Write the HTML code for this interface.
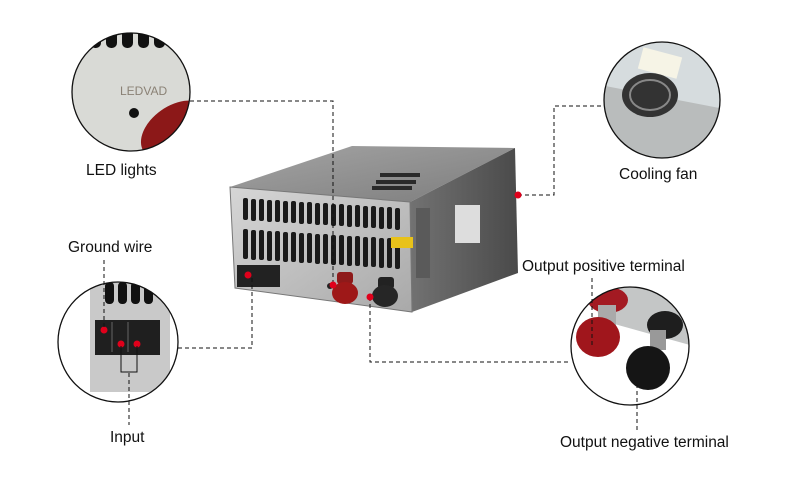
<!DOCTYPE html>
<html><head><meta charset="utf-8"><style>
html,body{margin:0;padding:0;background:#fff;}
svg{display:block;}
text{font-family:"Liberation Sans",Arial,sans-serif;font-size:15.5px;fill:#111;}
</style></head><body>
<svg width="800" height="480" viewBox="0 0 800 480" xmlns="http://www.w3.org/2000/svg">
<defs>
<linearGradient id="front" x1="0" y1="0" x2="1" y2="1"><stop offset="0" stop-color="#d6d6d6"/><stop offset="1" stop-color="#a9a9a9"/></linearGradient>
<linearGradient id="top" x1="0" y1="0" x2="1" y2="1"><stop offset="0" stop-color="#a4a4a4"/><stop offset="1" stop-color="#7d7d7d"/></linearGradient>
<linearGradient id="side" x1="0" y1="0" x2="1" y2="0"><stop offset="0" stop-color="#727272"/><stop offset="1" stop-color="#4a4a4a"/></linearGradient>
<clipPath id="c1"><circle cx="131" cy="92" r="59"/></clipPath>
<clipPath id="c2"><circle cx="662" cy="100" r="58"/></clipPath>
<clipPath id="c3"><circle cx="118" cy="342" r="60"/></clipPath>
<clipPath id="c4"><circle cx="630" cy="346" r="59"/></clipPath>
</defs>

<polygon points="230,187 352,146 515,148 410,202" fill="url(#top)"/>
<polygon points="410,202 515,148 518,273 412,312" fill="url(#side)"/>
<polygon points="230,187 410,202 412,312 235,288" fill="url(#front)" stroke="#777" stroke-width="1"/>
<g fill="#1a1a1a">
<rect x="243" y="198" width="5" height="22" rx="2"/><rect x="251" y="199" width="5" height="22" rx="2"/><rect x="259" y="199" width="5" height="22" rx="2"/><rect x="267" y="200" width="5" height="22" rx="2"/><rect x="275" y="200" width="5" height="22" rx="2"/><rect x="283" y="201" width="5" height="22" rx="2"/><rect x="291" y="201" width="5" height="22" rx="2"/><rect x="299" y="202" width="5" height="22" rx="2"/><rect x="307" y="202" width="5" height="22" rx="2"/><rect x="315" y="203" width="5" height="22" rx="2"/><rect x="323" y="203" width="5" height="22" rx="2"/><rect x="331" y="204" width="5" height="22" rx="2"/><rect x="339" y="204" width="5" height="22" rx="2"/><rect x="347" y="205" width="5" height="22" rx="2"/><rect x="355" y="205" width="5" height="22" rx="2"/><rect x="363" y="206" width="5" height="22" rx="2"/><rect x="371" y="206" width="5" height="22" rx="2"/><rect x="379" y="207" width="5" height="22" rx="2"/><rect x="387" y="207" width="5" height="22" rx="2"/><rect x="395" y="208" width="5" height="22" rx="2"/>
<rect x="243" y="229" width="5" height="30" rx="2"/><rect x="251" y="230" width="5" height="30" rx="2"/><rect x="259" y="230" width="5" height="30" rx="2"/><rect x="267" y="231" width="5" height="30" rx="2"/><rect x="275" y="231" width="5" height="30" rx="2"/><rect x="283" y="232" width="5" height="30" rx="2"/><rect x="291" y="232" width="5" height="30" rx="2"/><rect x="299" y="233" width="5" height="30" rx="2"/><rect x="307" y="233" width="5" height="30" rx="2"/><rect x="315" y="234" width="5" height="30" rx="2"/><rect x="323" y="234" width="5" height="30" rx="2"/><rect x="331" y="235" width="5" height="30" rx="2"/><rect x="339" y="235" width="5" height="30" rx="2"/><rect x="347" y="236" width="5" height="30" rx="2"/><rect x="355" y="236" width="5" height="30" rx="2"/><rect x="363" y="237" width="5" height="30" rx="2"/><rect x="371" y="237" width="5" height="30" rx="2"/><rect x="379" y="238" width="5" height="30" rx="2"/><rect x="387" y="238" width="5" height="30" rx="2"/><rect x="395" y="239" width="5" height="30" rx="2"/>
</g>
<g fill="#2a2a2a"><rect x="380" y="173" width="40" height="4"/><rect x="376" y="180" width="40" height="4"/><rect x="372" y="186" width="40" height="4"/></g>
<rect x="416" y="208" width="14" height="70" fill="#5a5a5a"/>
<rect x="455" y="205" width="25" height="38" fill="#ddd"/>
<rect x="391" y="237" width="22" height="11" fill="#e8c21a"/>
<rect x="237" y="265" width="43" height="22" fill="#222"/>
<circle cx="248" cy="275" r="3.5" fill="#e0001b"/>
<circle cx="330" cy="286" r="3" fill="#222"/>
<rect x="337" y="272" width="16" height="12" rx="3" fill="#8e1a1a"/>
<ellipse cx="345" cy="293" rx="13" ry="11" fill="#9e1818"/>
<rect x="378" y="277" width="16" height="12" rx="3" fill="#222"/>
<ellipse cx="385" cy="296" rx="13" ry="11" fill="#262626"/>

<g clip-path="url(#c1)">
<rect x="60" y="30" width="140" height="130" fill="#d9dad6"/>
<g fill="#111"><rect x="90" y="20" width="11" height="28" rx="5"/><rect x="106" y="20" width="11" height="28" rx="5"/><rect x="122" y="20" width="11" height="28" rx="5"/><rect x="138" y="20" width="11" height="28" rx="5"/><rect x="154" y="20" width="11" height="28" rx="5"/><rect x="170" y="20" width="11" height="28" rx="5"/></g>
<text x="120" y="95" style="font-size:12px;fill:#8a8175">LEDVAD</text>
<circle cx="134" cy="113" r="5" fill="#111"/>
<ellipse cx="175" cy="130" rx="38" ry="24" transform="rotate(-35 175 130)" fill="#8c1818"/>
</g>
<circle cx="131" cy="92" r="59" fill="none" stroke="#111" stroke-width="1.3"/>

<g clip-path="url(#c2)">
<rect x="600" y="40" width="130" height="125" fill="#b9bcbc"/>
<polygon points="600,40 730,40 730,110 600,85" fill="#d6dcde"/>
<rect x="640" y="52" width="40" height="22" fill="#f6f4e6" transform="rotate(15 660 63)"/>
<ellipse cx="650" cy="95" rx="28" ry="22" fill="#333"/>
<ellipse cx="650" cy="95" rx="20" ry="15" fill="none" stroke="#888" stroke-width="2"/>
</g>
<circle cx="662" cy="100" r="58" fill="none" stroke="#111" stroke-width="1.3"/>

<g clip-path="url(#c3)">
<rect x="55" y="280" width="130" height="125" fill="#fff"/>
<rect x="90" y="282" width="80" height="110" fill="#c9c9c9"/>
<g fill="#111"><rect x="105" y="282" width="9" height="22" rx="4"/><rect x="118" y="282" width="9" height="22" rx="4"/><rect x="131" y="282" width="9" height="22" rx="4"/><rect x="144" y="282" width="9" height="22" rx="4"/></g>
<rect x="95" y="320" width="65" height="35" fill="#1f1f1f"/>
<line x1="112" y1="322" x2="112" y2="352" stroke="#666"/><line x1="128" y1="322" x2="128" y2="352" stroke="#666"/>
</g>
<circle cx="118" cy="342" r="60" fill="none" stroke="#111" stroke-width="1.3"/>
<circle cx="104" cy="330" r="3.5" fill="#e0001b"/>
<circle cx="121" cy="344" r="3.5" fill="#e0001b"/>
<circle cx="137" cy="344" r="3.5" fill="#e0001b"/>
<polyline points="121,346 121,372 137,372 137,346" fill="none" stroke="#111" stroke-width="1"/>

<g clip-path="url(#c4)">
<rect x="570" y="285" width="120" height="125" fill="#fff"/>
<polygon points="590,285 690,285 690,345 600,320" fill="#c4c6c6"/>
<ellipse cx="608" cy="300" rx="20" ry="13" fill="#a31a22"/>
<rect x="598" y="305" width="18" height="22" fill="#aaa"/>
<ellipse cx="598" cy="337" rx="22" ry="20" fill="#a0161c"/>
<ellipse cx="665" cy="325" rx="18" ry="14" fill="#1e1e1e"/>
<rect x="650" y="330" width="16" height="20" fill="#999"/>
<ellipse cx="648" cy="368" rx="22" ry="22" fill="#151515"/>
</g>
<circle cx="630" cy="346" r="59" fill="none" stroke="#111" stroke-width="1.3"/>

<g fill="none" stroke="#111" stroke-width="1" stroke-dasharray="4,3">
<polyline points="190,101 333,101 333,285"/>
<polyline points="518,195 554,195 554,106 604,106"/>
<polyline points="178,348 252,348 252,277"/>
<polyline points="370,297 370,362 571,362"/>
<line x1="104" y1="260" x2="104" y2="328"/>
<line x1="129" y1="373" x2="129" y2="425"/>
<line x1="592" y1="278" x2="592" y2="345"/>
<line x1="637" y1="384" x2="637" y2="430"/>
</g>
<circle cx="333" cy="285" r="3.5" fill="#e0001b"/>
<circle cx="518" cy="195" r="3.5" fill="#e0001b"/>
<circle cx="370" cy="297" r="3.5" fill="#e0001b"/>

<text x="86" y="175">LED lights</text>
<text x="619" y="179">Cooling fan</text>
<text x="68" y="252">Ground wire</text>
<text x="110" y="442">Input</text>
<text x="522" y="271">Output positive terminal</text>
<text x="560" y="447">Output negative terminal</text>
</svg>
</body></html>
